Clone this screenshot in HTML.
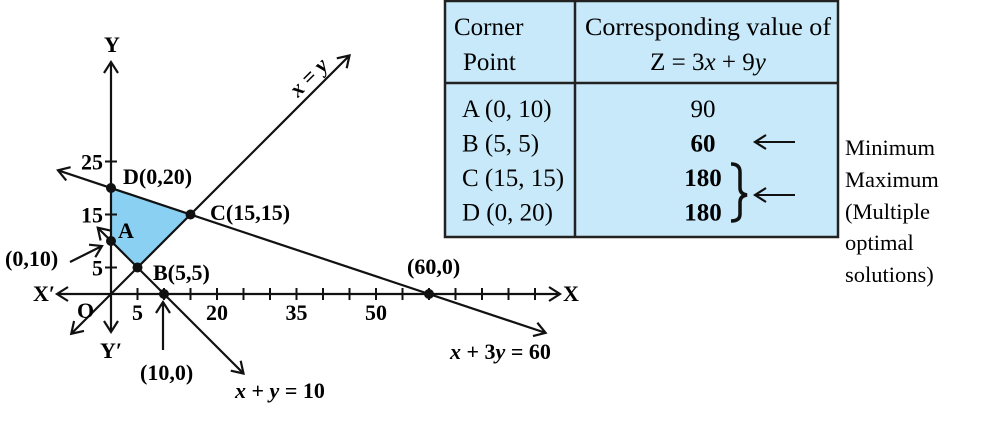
<!DOCTYPE html>
<html><head><meta charset="utf-8"><style>
html,body{margin:0;padding:0;background:#fff;width:995px;height:423px;overflow:hidden}
svg{display:block;font-family:"Liberation Serif",serif}
.b{font-weight:bold;font-size:22px}
.t{font-size:25px}
</style></head><body>
<svg id="chart" width="995" height="423" viewBox="0 0 995 423">
<defs><marker id="ah" markerWidth="16" markerHeight="16" refX="13" refY="8" orient="auto-start-reverse" markerUnits="userSpaceOnUse"><path d="M2,1 L13,8 L2,15" fill="none" stroke="#111" stroke-width="2.2"/></marker></defs>
<g id="graph"></g>
<g>
<rect x="445" y="1" width="393" height="236" fill="#c8e9f9" stroke="#222" stroke-width="2.5"/>
<line x1="445" y1="83" x2="838" y2="83" stroke="#222" stroke-width="2.5"/>
<line x1="575" y1="1" x2="575" y2="237" stroke="#222" stroke-width="2.5"/>
<text class="t" x="454" y="35">Corner</text>
<text class="t" x="463" y="70">Point</text>
<text class="t" x="708" y="35" text-anchor="middle" textLength="246" lengthAdjust="spacingAndGlyphs">Corresponding value of</text>
<text class="t" x="708" y="70" text-anchor="middle">Z = 3<tspan font-style="italic">x</tspan> + 9<tspan font-style="italic">y</tspan></text>
<g id="rows"></g>
<line x1="795" y1="142" x2="755" y2="142" stroke="#111" stroke-width="2" marker-end="url(#ah)"/>
<line x1="795" y1="195" x2="755" y2="195" stroke="#111" stroke-width="2" marker-end="url(#ah)"/>
<path d="M731,164 Q740,164 740,172 L740,188 Q740,194 747,195 Q740,196 740,202 L740,214 Q740,221 731,221" fill="none" stroke="#111" stroke-width="3.5"/>
</g>
<g font-size="22.5">
<text x="845" y="155">Minimum</text><text x="845" y="187">Maximum</text><text x="845" y="219">(Multiple</text><text x="845" y="250">optimal</text><text x="845" y="282">solutions)</text>
</g>
</svg>
<script>
const corners=["A (0, 10)","B (5, 5)","C (15, 15)","D (0, 20)"];
const zValues=["90","60","180","180"];
const boldRows=[false,true,true,true];
const xTickLabels=[5,20,35,50];
const yTickLabels=[5,15,25];
const region=[[0,10],[5,5],[15,15],[0,20]];
const ox=111,oy=294,s=5.3;
const X=v=>ox+v*s, Y=v=>oy-v*s;
const NS="http://www.w3.org/2000/svg";
const g=document.getElementById('graph');
function el(t,a,p){const e=document.createElementNS(NS,t);for(const k in a)e.setAttribute(k,a[k]);(p||g).appendChild(e);return e;}
function txt(x,y,s,cls,anchor,p){const e=el('text',{x:x,y:y,'class':cls||'b','text-anchor':anchor||'start'},p);e.textContent=s;return e;}
const poly=el('polygon',{points:region.map(p=>X(p[0])+','+Y(p[1])).join(' '),fill:'#8ad0f2'});


const ln={stroke:'#111','stroke-width':2.2,'marker-end':'url(#ah)','marker-start':'url(#ah)'};
const xa=el('line',Object.assign({x1:57,y1:oy,x2:560,y2:oy},ln));


const ya=el('line',Object.assign({x1:ox,y1:332,x2:ox,y2:62},ln));


for(let v=5;v<=80;v+=5){if(X(v)>555)break;const t=el('line',{x1:X(v),y1:oy-6,x2:X(v),y2:oy+6,stroke:'#111','stroke-width':2});

}
xTickLabels.forEach(v=>{const t=txt(X(v),320,String(v),'b','middle');

});
yTickLabels.forEach(v=>{el('line',{x1:ox-6,y1:Y(v),x2:ox+6,y2:Y(v),stroke:'#111','stroke-width':2});const t=txt(ox-8,Y(v)+8,String(v),'b','end');

});
const l1=el('line',Object.assign({x1:X(-7.5),y1:Y(-7.5),x2:X(45),y2:Y(45)},ln));


const l2=el('line',Object.assign({x1:X(-10),y1:Y(60/3+10/3),x2:X(82),y2:Y((60-82)/3)},ln));


const l3=el('line',Object.assign({x1:X(-2.5),y1:Y(12.5),x2:X(25),y2:Y(-15)},ln));


[[0,10],[5,5],[15,15],[0,20],[10,0],[60,0]].forEach(p=>{const c=el('circle',{cx:X(p[0]),cy:Y(p[1]),r:5,fill:'#111'});

});
const labels=[["Y",104,52],["D(0,20)",123,184],["C(15,15)",210,220],["A",118,238],["(0,10)",5,266],["B(5,5)",153,280],["X′",33,301],["O",77,318],["Y′",100,358],["X",563,301],["(10,0)",140,380],["(60,0)",407,274]];
labels.forEach(l=>{const t=txt(l[1],l[2],l[0]);

});
el('line',{x1:70,y1:262,x2:102,y2:246,stroke:'#111','stroke-width':2.2,'marker-end':'url(#ah)'});
el('line',{x1:163,y1:350,x2:163,y2:302,stroke:'#111','stroke-width':2.2,'marker-end':'url(#ah)'});
const e1=txt(235,398,'','b');e1.innerHTML='<tspan font-style="italic">x</tspan> + <tspan font-style="italic">y</tspan> = 10';


const e2=txt(450,359,'','b');e2.innerHTML='<tspan font-style="italic">x</tspan> + 3<tspan font-style="italic">y</tspan> = 60';


const e3=txt(0,0,'','b');e3.innerHTML='<tspan font-style="italic">x</tspan> = <tspan font-style="italic">y</tspan>';
e3.setAttribute('transform','translate(298,98) rotate(-45)');


const rows=document.getElementById('rows');
corners.forEach((c,i)=>{const y=117+i*34.5;
const a=txt(462,y,c,'t','start',rows);


const b=txt(703,y,zValues[i],'t','middle',rows);
if(boldRows[i])b.setAttribute('font-weight','bold');

});
</script>
</body></html>
